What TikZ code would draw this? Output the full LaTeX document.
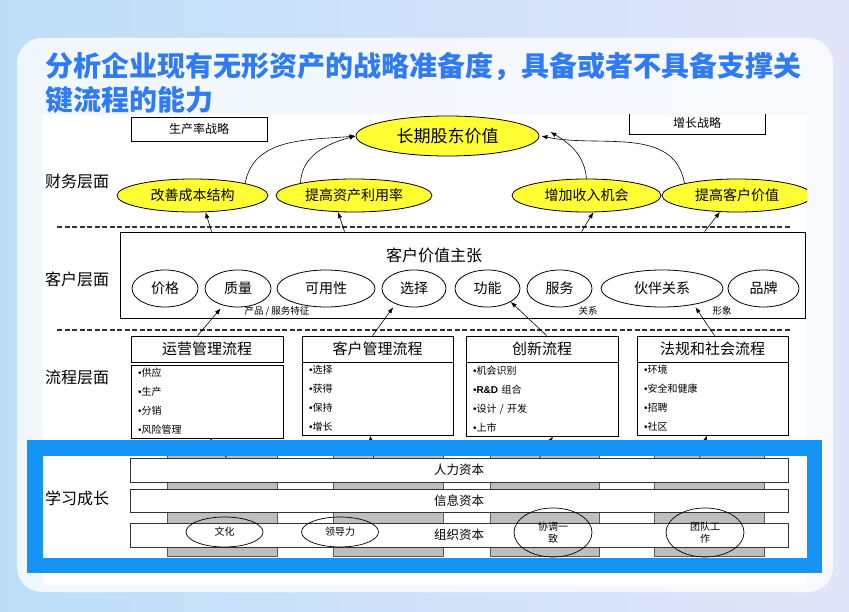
\documentclass[tikz,border=0pt]{standalone}
\usepackage{fontspec}
\setmainfont{Noto Sans CJK SC}
\newfontfamily\bulletfont{Liberation Sans}
\newcommand{\pbul}{{\bulletfont •}}
\usepackage{tikz}
\usetikzlibrary{arrows.meta, positioning, shapes.geometric, calc}

\definecolor{titleblue}{RGB}{47,123,245}
\definecolor{frameblue}{RGB}{21,148,245}
\definecolor{finyellow}{RGB}{255,255,51}
\definecolor{colgray}{RGB}{190,190,190}
\definecolor{bgleft}{RGB}{190,222,248}
\definecolor{bgmid}{RGB}{140,182,246}
\definecolor{bgright}{RGB}{226,229,250}

\begin{document}
\begin{tikzpicture}[x=1pt, y=1pt,
    fin/.style={ellipse, draw, fill=finyellow, line width=0.8pt, inner sep=0pt, font=\fontsize{14}{16}\selectfont},
    feat/.style={ellipse, draw, fill=white, line width=0.8pt, inner sep=0pt, minimum height=37, font=\fontsize{14}{16}\selectfont},
    strat/.style={draw, line width=0.8pt, inner sep=0pt, font=\fontsize{12}{14}\selectfont},
    layertitle/.style={anchor=west, inner sep=0pt, font=\fontsize{16}{18}\selectfont},
    phead/.style={draw, line width=0.8pt, inner sep=0pt, minimum height=26, font=\fontsize{15}{17}\selectfont},
    plist/.style={draw, line width=0.8pt, inner xsep=7pt, inner ysep=2pt, align=left, font=\fontsize{10}{19}\selectfont},
    capcol/.style={draw=black!65, fill=colgray, line width=0.8pt},
    capbar/.style={draw=black!80, fill=white, line width=0.8pt, inner sep=0pt, minimum width=658, minimum height=24, font=\fontsize{12.5}{14}\selectfont},
    orgell/.style={ellipse, draw, line width=0.7pt, inner sep=0pt, align=center, font=\fontsize{10}{12}\selectfont},
    tag/.style={inner sep=0pt, font=\fontsize{9.5}{11}\selectfont},
    layersep/.style={draw=black!80, line width=1.2pt, dash pattern=on 5pt off 2.5pt},
    flow/.style={-{Latex[length=6pt, width=4.5pt]}, line width=0.6pt}]

    % Background and panel
    \useasboundingbox (0,0) rectangle (849,-612);
    \shade[left color=bgleft, middle color=bgmid, right color=bgright] (0,0) rectangle (849,-612);
    \fill[white, opacity=0.78, rounded corners=25pt] (17,-38) rectangle (833,-592);

    % Title
    \node[anchor=west, inner sep=0pt, text=titleblue, font=\fontsize{28}{33}\selectfont\bfseries] (title1) at (45,-67) {分析企业现有无形资产的战略准备度，具备或者不具备支撑关};
    \node[anchor=west, inner sep=0pt, text=titleblue, font=\fontsize{28}{33}\selectfont\bfseries] (title2) at (45,-100) {键流程的能力};

    % Diagram sheet
    \fill[white] (43,-115) rectangle (807,-585);
    \begin{scope}
    \clip (43,-115) rectangle (807,-585);

    % Strategy boxes
    \node[strat, minimum width=136, minimum height=24] (prod) at (199,-129) {生产率战略};
    \node[strat, minimum width=136, minimum height=22] (grow) at (697,-123) {增长战略};

    % Financial layer
    \node[fin, minimum width=183, minimum height=40, font=\fontsize{17}{19}\selectfont] (ltv) at (447.5,-136) {长期股东价值};
    \node[fin, minimum width=151, minimum height=33] (cost) at (192.5,-195.5) {改善成本结构};
    \node[fin, minimum width=156, minimum height=33] (asset) at (354,-195.5) {提高资产利用率};
    \node[fin, minimum width=149, minimum height=33] (rev) at (586.5,-195.5) {增加收入机会};
    \node[fin, minimum width=150, minimum height=33] (cval) at (737,-195.5) {提高客户价值};

    \draw[flow] (cost.13) to[out=80, in=185] (ltv.west);
    \draw[flow] (asset.167) to[out=88, in=195] (ltv.west);
    \draw[flow] (rev.north) to[out=95, in=-30] ($(ltv.east)+(11,4)$);
    \draw[flow] (cval.167) to[out=100, in=-12] ($(ltv.east)+(2,0)$);

    % Layer titles and separators
    \node[layertitle] (finlab) at (45,-181) {财务层面};
    \node[layertitle] (cuslab) at (45,-279) {客户层面};
    \node[layertitle] (prolab) at (45,-377) {流程层面};
    \node[layertitle] (lealab) at (45,-498) {学习成长};
    \draw[layersep] (57,-227) -- (790,-227);
    \draw[layersep] (57,-330) -- (790,-330);

    % Customer layer
    \node[draw, line width=0.8pt, minimum width=685, minimum height=86] (cvp) at (462.5,-275) {};
    \node[inner sep=0pt, font=\fontsize{16}{18}\selectfont] (cvptitle) at (434,-255) {客户价值主张};
    \node[feat, minimum width=66] (price) at (165,-288.5) {价格};
    \node[feat, minimum width=66] (quality) at (238,-288.5) {质量};
    \node[feat, minimum width=98] (avail) at (326,-288.5) {可用性};
    \node[feat, minimum width=64] (choice) at (414,-288.5) {选择};
    \node[feat, minimum width=65] (func) at (487.5,-288.5) {功能};
    \node[feat, minimum width=65] (serv) at (559.5,-288.5) {服务};
    \node[feat, minimum width=122] (partner) at (662,-288.5) {伙伴关系};
    \node[feat, minimum width=71] (brand) at (763.5,-288.5) {品牌};
    \node[tag] (tagprod) at (277,-311) {产品 / 服务特征};
    \node[tag] (tagrel) at (588,-311) {关系};
    \node[tag] (tagimg) at (722,-311) {形象};

    \draw[flow] ($(cvp.north west)+(92,0)$) -- (cost.-52);
    \draw[flow] ($(cvp.north west)+(225,0)$) -- (asset.-134);
    \draw[flow] ($(cvp.north west)+(462,0)$) -- (rev.-68);
    \draw[flow] ($(cvp.north west)+(585,0)$) -- (cval.-136);

    % Process layer
    \node[phead, minimum width=152] (opsh) at (207,-349) {运营管理流程};
    \node[plist, text width=138, minimum height=73] (opsl) at (207,-401.5) {\pbul 供应\\\pbul 生产\\\pbul 分销\\\pbul 风险管理};
    \node[phead, minimum width=151] (custh) at (377.5,-349) {客户管理流程};
    \node[plist, text width=137, minimum height=73] (custl) at (377.5,-398.5) {\pbul 选择\\\pbul 获得\\\pbul 保持\\\pbul 增长};
    \node[phead, minimum width=152] (innovh) at (542,-349) {创新流程};
    \node[plist, text width=138, minimum height=74] (innovl) at (542,-399) {\pbul 机会识别\\\pbul {\bulletfont\bfseries R\&D} 组合\\\pbul 设计 / 开发\\\pbul 上市};
    \node[phead, minimum width=151] (regh) at (712.5,-349) {法规和社会流程};
    \node[plist, text width=137, minimum height=73] (regl) at (712.5,-398.5) {\pbul 环境\\\pbul 安全和健康\\\pbul 招聘\\\pbul 社区};

    \draw[flow, shorten >=4pt] ($(opsh.north west)+(67,0)$) -- (quality.-131);
    \draw[flow, shorten >=4pt] ($(custh.north west)+(71,0)$) -- (choice.-140);
    \draw[flow] ($(innovh.north west)+(81,0)$) -- (func.south east);
    \draw[flow, shorten >=3pt] ($(regh.north west)+(78,0)$) -- (partner.-27);

    % Learning and growth layer
    \draw[capcol] (167,-450) rectangle (277,-556);
    \draw[capcol] (333,-450) rectangle (443,-556);
    \draw[capcol] (490,-450) rectangle (599,-556);
    \draw[capcol] (654,-450) rectangle (764,-556);
    \node[capbar] (human) at (459,-470) {人力资本};
    \node[capbar, minimum height=23] (info) at (459,-500.5) {信息资本};
    \node[capbar] (org) at (459,-535) {组织资本};
    \node[orgell, minimum width=77, minimum height=30] (culture) at (224.5,-532) {文化};
    \node[orgell, minimum width=77, minimum height=30] (lead) at (340,-532) {领导力};
    \node[orgell, minimum width=78, minimum height=49] (align) at (553,-532.5) {协调一\\致};
    \node[orgell, minimum width=78, minimum height=49] (team) at (705,-532.5) {团队工\\作};

    \draw[flow] ($(human.north west)+(97,0)$) -- ($(opsl.south)+(3,0)$);
    \draw[flow] ($(human.north west)+(244,0)$) -- ($(custl.south)+(-7.5,0)$);
    \draw[flow] ($(human.north west)+(410,0)$) -- ($(innovl.south)+(11,0)$);
    \draw[flow] ($(human.north west)+(570,0)$) -- ($(regl.south)+(-5.5,0)$);
    \end{scope}

    % Highlight frame
    \draw[frameblue, line width=15.5pt] (35,-448) rectangle (814.5,-565.5);
\end{tikzpicture}
\end{document}
